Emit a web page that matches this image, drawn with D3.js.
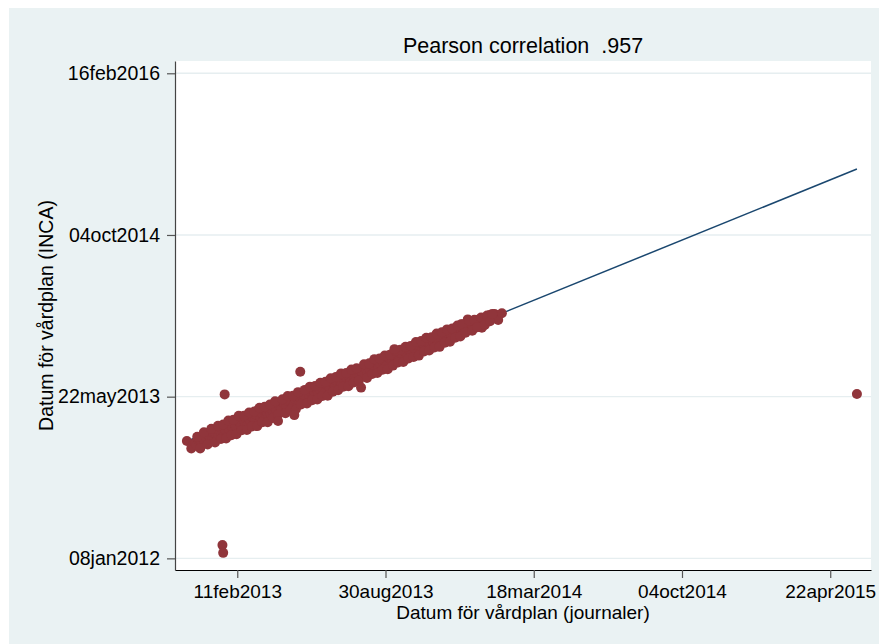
<!DOCTYPE html>
<html>
<head>
<meta charset="utf-8">
<script src="https://cdn.jsdelivr.net/npm/d3@7"></script>
<style>
  html, body { margin: 0; padding: 0; background: #ffffff; }
  svg text { font-family: "Liberation Sans", Arial, Helvetica, sans-serif; fill: #000; white-space: pre; }
</style>
</head>
<body>
<svg id="chart" width="879" height="644"></svg>
<script>
// ---- Data (dates as Stata day numbers: days since 01jan1960) ----
const titleText = "Pearson correlation  .957";
const xTitle = "Datum för vårdplan (journaler)";
const yTitle = "Datum för vårdplan (INCA)";

const xTickValues = [19400, 19600, 19800, 20000, 20200];
const xTickLabels = ["11feb2013", "30aug2013", "18mar2014", "04oct2014", "22apr2015"];
const yTickValues = [19000, 19500, 20000, 20500];
const yTickLabels = ["08jan2012", "22may2013", "04oct2014", "16feb2016"];

// x = date for care plan (journaler), y = date for care plan (INCA)
const journalDates = [
  19332, 19338, 19340, 19343, 19345, 19348, 19351, 19353, 19356, 19358, 19361, 19363, 19366, 19368,
  19371, 19373, 19375, 19377, 19379, 19382, 19384, 19386, 19389, 19391, 19393, 19396, 19398, 19400,
  19403, 19405, 19407, 19410, 19412, 19414, 19417, 19419, 19421, 19424, 19426, 19428, 19431, 19433,
  19435, 19438, 19440, 19442, 19445, 19447, 19449, 19452, 19457, 19459, 19462, 19464, 19466, 19469,
  19471, 19473, 19476, 19478, 19480, 19483, 19485, 19488, 19490, 19492, 19495, 19497, 19499, 19502,
  19504, 19506, 19509, 19511, 19513, 19516, 19518, 19520, 19523, 19525, 19527, 19530, 19532, 19534,
  19537, 19539, 19541, 19544, 19546, 19548, 19551, 19553, 19555, 19558, 19560, 19562, 19565, 19567,
  19569, 19572, 19574, 19576, 19579, 19581, 19583, 19586, 19588, 19590, 19593, 19595, 19597, 19600,
  19602, 19604, 19607, 19609, 19611, 19614, 19616, 19618, 19621, 19623, 19625, 19628, 19630, 19632,
  19635, 19637, 19639, 19642, 19644, 19646, 19649, 19651, 19653, 19656, 19658, 19660, 19663, 19665,
  19667, 19670, 19672, 19674, 19677, 19679, 19681, 19684, 19686, 19688, 19691, 19693, 19695, 19698,
  19700, 19702, 19705, 19707, 19709, 19711, 19712, 19714, 19716, 19719, 19721, 19723, 19726, 19728,
  19730, 19731, 19733, 19735, 19738, 19740, 19742, 19745, 19747, 19749, 19752, 19757,
  19346, 19350, 19355, 19360, 19365, 19370, 19374, 19378, 19381, 19385, 19388, 19392, 19395, 19399,
  19402, 19406, 19409, 19413, 19416, 19420, 19423, 19427, 19430, 19434, 19437, 19441, 19444, 19448,
  19451, 19455, 19461, 19465, 19468, 19472, 19475, 19479, 19482, 19486, 19491, 19494, 19498, 19501,
  19505, 19508, 19512, 19515, 19519, 19522, 19526, 19529, 19533, 19536, 19540, 19543, 19547, 19550,
  19554, 19557, 19561, 19564, 19571, 19575, 19578, 19582, 19585, 19589, 19592, 19596, 19599, 19603,
  19606, 19610, 19613, 19617, 19620, 19624, 19627, 19631, 19634, 19638, 19641, 19645, 19648, 19652,
  19655, 19659, 19662, 19666, 19669, 19673, 19676, 19680, 19683, 19687, 19690, 19694, 19697, 19701,
  19704, 19708, 19713, 19717, 19720, 19724, 19729, 19734, 19737, 19741, 19744,
  19383, 19485, 19567, 19612, 19455, 19477, 19380, 19381, 20236
];
const incaDates = [
  19363, 19340, 19348, 19357, 19349, 19366, 19360, 19375, 19362, 19373, 19388, 19373, 19368, 19387,
  19383, 19403, 19382, 19393, 19403, 19385, 19397, 19407, 19397, 19424, 19408, 19392, 19409, 19426,
  19420, 19410, 19436, 19422, 19432, 19412, 19426, 19442, 19435, 19428, 19444, 19459, 19438, 19448,
  19460, 19432, 19450, 19462, 19448, 19460, 19477, 19460, 19473, 19460, 19484, 19475, 19471, 19486,
  19497, 19482, 19473, 19492, 19501, 19489, 19497, 19507, 19492, 19502, 19519, 19504, 19514, 19501,
  19515, 19526, 19513, 19524, 19535, 19522, 19513, 19536, 19532, 19526, 19545, 19541, 19535, 19548,
  19562, 19546, 19539, 19556, 19565, 19553, 19560, 19547, 19570, 19560, 19581, 19570, 19562, 19580,
  19573, 19589, 19584, 19575, 19585, 19603, 19595, 19588, 19603, 19586, 19601, 19614, 19601, 19611,
  19600, 19620, 19614, 19610, 19624, 19635, 19621, 19613, 19631, 19625, 19642, 19636, 19627, 19644,
  19639, 19656, 19648, 19641, 19658, 19652, 19643, 19662, 19656, 19674, 19665, 19658, 19675, 19666,
  19683, 19675, 19668, 19683, 19697, 19681, 19692, 19681, 19700, 19694, 19690, 19710, 19703, 19699,
  19712, 19724, 19710, 19703, 19719, 19739, 19714, 19729, 19723, 19717, 19730, 19724, 19739, 19733,
  19713, 19741, 19730, 19743, 19740, 19752, 19748, 19744, 19756, 19752, 19737, 19758,
  19376, 19340, 19390, 19352, 19401, 19358, 19410, 19369, 19414, 19371, 19426, 19381, 19429, 19384,
  19441, 19396, 19441, 19397, 19451, 19408, 19454, 19409, 19466, 19421, 19469, 19421, 19476, 19434,
  19486, 19444, 19492, 19449, 19502, 19460, 19503, 19461, 19514, 19476, 19521, 19479, 19531, 19489,
  19533, 19491, 19543, 19502, 19546, 19503, 19557, 19515, 19561, 19520, 19572, 19531, 19573, 19532,
  19584, 19544, 19588, 19549, 19600, 19558, 19603, 19570, 19616, 19573, 19618, 19583, 19627, 19585,
  19630, 19596, 19642, 19606, 19645, 19607, 19654, 19618, 19657, 19623, 19669, 19627, 19672, 19640,
  19682, 19643, 19684, 19652, 19695, 19654, 19699, 19667, 19708, 19670, 19711, 19682, 19720, 19686,
  19724, 19698, 19735, 19704, 19738, 19715, 19745, 19722, 19751, 19733, 19756,
  19507, 19577, 19528, 19647, 19425, 19443, 19041, 19017, 19508
];

// Fitted values line (linear fit), endpoints
const fitX = [19332, 20236];
const fitY = [19362, 20204];

// ---- Layout ----
const W = 879, H = 644;
const plot = { left: 175, right: 871, top: 61, bottom: 570 };

const svg = d3.select("#chart");

// outer graph region
svg.append("rect").attr("x", 0).attr("y", 0).attr("width", W).attr("height", H).attr("fill", "#ffffff");
svg.append("rect").attr("x", 9).attr("y", 8).attr("width", W - 9).attr("height", H - 8).attr("fill", "#EAF2F3");
// plot region
svg.append("rect").attr("x", plot.left).attr("y", plot.top)
  .attr("width", plot.right - plot.left).attr("height", plot.bottom - plot.top).attr("fill", "#ffffff");

const x = d3.scaleLinear().domain([19316, 20255]).range([plot.left, plot.right]);
const y = d3.scaleLinear().domain([18964, 20538]).range([plot.bottom, plot.top]);

// gridlines
svg.append("g").selectAll("line").data(yTickValues).join("line")
  .attr("x1", plot.left).attr("x2", plot.right)
  .attr("y1", d => y(d)).attr("y2", d => y(d))
  .attr("stroke", "#E6EEF0").attr("stroke-width", 1.4);

// fit line
const line = d3.line().x(d => x(d[0])).y(d => y(d[1]));
svg.append("path").datum(fitX.map((v, i) => [v, fitY[i]]))
  .attr("d", line).attr("fill", "none").attr("stroke", "#1A476F").attr("stroke-width", 1.5);

// points
const pts = journalDates.map((v, i) => [v, incaDates[i]]);
svg.append("g").selectAll("circle").data(pts).join("circle")
  .attr("cx", d => x(d[0])).attr("cy", d => y(d[1])).attr("r", 5)
  .attr("fill", "#90353B");

// axes
const xAxis = d3.axisBottom(x).tickValues(xTickValues).tickFormat((d, i) => xTickLabels[i])
  .tickSize(8).tickSizeOuter(0).tickPadding(7);
const gx = svg.append("g").attr("transform", `translate(0,${plot.bottom})`).call(xAxis);
gx.select(".domain").attr("stroke", "#000").attr("stroke-width", 1.2);
gx.selectAll(".tick line").attr("stroke", "#555").attr("stroke-width", 1.2);
gx.selectAll(".tick text").attr("font-size", "19px").attr("fill", "#000");

const yAxis = d3.axisLeft(y).tickValues(yTickValues).tickFormat((d, i) => yTickLabels[i])
  .tickSize(8).tickSizeOuter(0).tickPadding(7);
const gy = svg.append("g").attr("transform", `translate(${plot.left},0)`).call(yAxis);
gy.select(".domain").attr("stroke", "#444").attr("stroke-width", 1.2);
gy.selectAll(".tick line").attr("stroke", "#555").attr("stroke-width", 1.2);
gy.selectAll(".tick text").attr("font-size", "19.5px").attr("fill", "#000");

// titles
svg.append("text").attr("x", (plot.left + plot.right) / 2).attr("y", 53)
  .attr("text-anchor", "middle").attr("font-size", "21.5px").text(titleText);
svg.append("text").attr("x", (plot.left + plot.right) / 2).attr("y", 619)
  .attr("text-anchor", "middle").attr("font-size", "19px").text(xTitle);
svg.append("text").attr("transform", `translate(52.5,${(plot.top + plot.bottom) / 2}) rotate(-90)`)
  .attr("text-anchor", "middle").attr("font-size", "19.5px").text(yTitle);
</script>
</body>
</html>
